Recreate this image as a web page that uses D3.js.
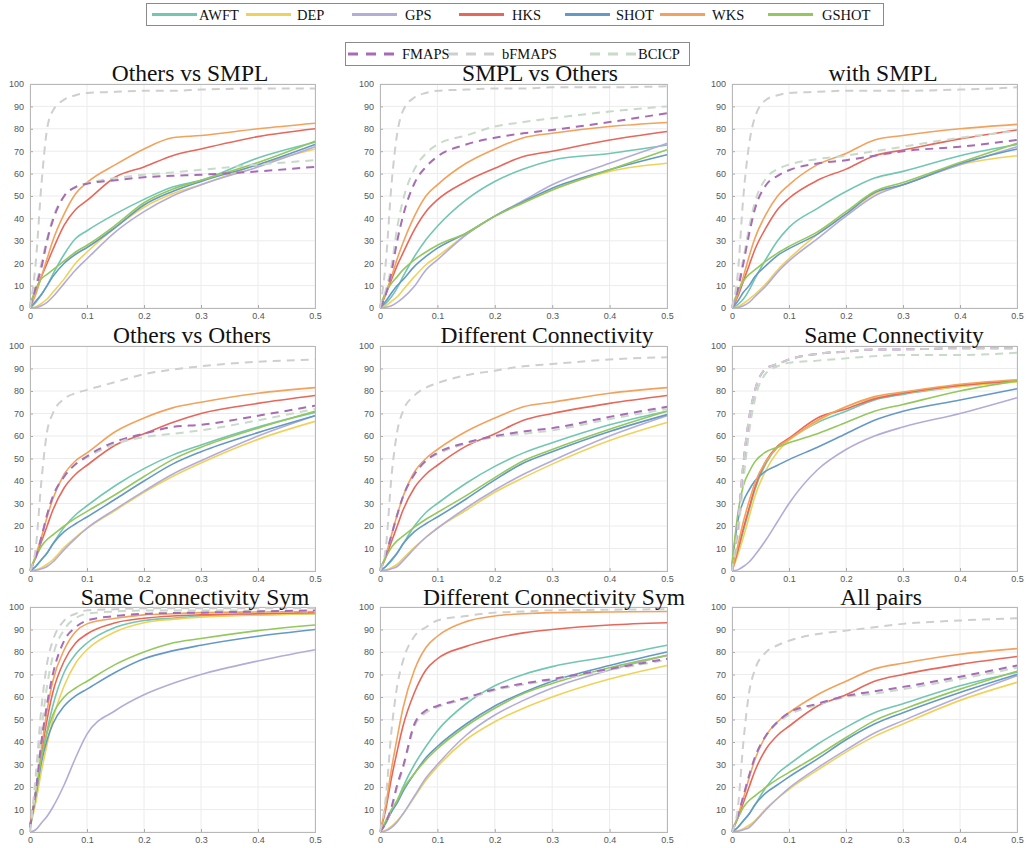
<!DOCTYPE html>
<html>
<head>
<meta charset="utf-8">
<script src="https://cdn.jsdelivr.net/npm/d3@7/dist/d3.min.js"></script>
<style>
  html, body { margin: 0; padding: 0; background: #fff; }
  svg { display: block; }
</style>
</head>
<body>
<svg id="chart" width="1026" height="848"></svg>
<script>
// Geodesic error thresholds shared by every curve
const thresholds = [0, 0.01, 0.02, 0.03, 0.04, 0.06, 0.08, 0.1, 0.15, 0.2, 0.25, 0.3, 0.4, 0.5];

const methods = ["AWFT", "DEP", "GPS", "HKS", "SHOT", "WKS", "GSHOT", "FMAPS", "bFMAPS", "BCICP"];
const methodColors = ["#72c6b2", "#f0d25a", "#b3acd8", "#e8675b", "#6499c7", "#f2a25c", "#94c85c",
                      "#a86bb6", "#cfcfcf", "#c8dac8"];
const dashedMethods = ["FMAPS", "bFMAPS", "BCICP"];

const panelTitles = ["Others vs SMPL", "SMPL vs Others", "with SMPL",
                     "Others vs Others", "Different Connectivity", "Same Connectivity",
                     "Same Connectivity Sym", "Different Connectivity Sym", "All pairs"];

const xTickValues = [0, 0.1, 0.2, 0.3, 0.4, 0.5];
const xTickLabels = ["0", "0.1", "0.2", "0.3", "0.4", "0.5"];
const yTickValues = [0, 10, 20, 30, 40, 50, 60, 70, 80, 90, 100];

// % correspondences per method (rows follow `methods`)
const othersVsSmpl = [
  [0, 2.5, 6, 10, 15, 24, 31, 34.5, 42, 48.5, 54, 57, 67, 74],
  [0, 0.5, 2, 4, 7, 13, 20, 25, 36, 45, 51, 55, 64, 71],
  [0, 0.2, 1, 2.5, 5, 11, 17, 22, 34, 43, 50, 55, 63, 72],
  [1, 8, 14, 20, 26, 37, 44, 48, 58.5, 63, 68, 71, 76.5, 80],
  [0, 3, 6, 10, 14, 20, 24, 27, 36, 46, 52, 56.5, 64, 73],
  [0, 6, 14, 22, 30, 42, 51, 56, 64, 71, 76, 77, 80, 82.5],
  [2, 8, 13, 15, 17, 21, 25, 28, 37, 47, 53, 57, 65, 74.5],
  [0, 9, 18, 30, 39, 50, 54, 55.5, 57, 58.4, 59, 59.5, 61, 63],
  [0, 20, 55, 80, 88, 93, 95, 96, 96.5, 97, 97, 97.5, 98, 98],
  [0, 10, 20, 31, 40, 50, 54, 55.7, 58, 59.5, 60.5, 61.7, 64, 66]
];
const smplVsOthers = [
  [0, 2, 5, 9, 14, 23, 30.5, 36.5, 48.3, 56.5, 62, 66, 69, 72.8],
  [0, 1, 3, 5, 8, 14, 19.3, 23, 32.7, 41, 47, 52.7, 61, 64.6],
  [0, 0.3, 1, 2.5, 4.5, 9.7, 17, 21.5, 32.7, 41, 48, 55, 64.6, 73.5],
  [0, 6, 12.6, 19, 24.5, 35, 43, 48.3, 56.5, 62.4, 67.6, 70, 75, 78.8],
  [0, 3, 6.7, 10, 12.6, 18.6, 23, 26.7, 33.4, 41, 47.5, 53.5, 61.7, 68.4],
  [0, 7, 14, 22, 29, 41, 50, 55, 64.6, 71, 76, 78, 81, 82.8],
  [1, 7, 11, 14, 17, 21.5, 25, 28, 33.4, 41, 47, 52.7, 61.7, 70.6],
  [0, 6, 16, 30, 41, 55.7, 63, 67.6, 73, 76, 78, 79.5, 83, 87],
  [0, 20, 55, 78, 88, 94, 96, 97, 97.5, 98, 98, 98.5, 98.5, 99],
  [0, 8, 19, 36, 48, 62, 69, 73, 77, 81, 83, 84.7, 87.7, 90]
];
const withSmpl = [
  [0, 1.5, 4, 8, 13, 22, 30, 36, 44.5, 52, 58, 61, 68, 73],
  [0, 0.5, 2, 4, 6, 11, 17, 22, 33, 42, 51, 55, 64, 68],
  [0, 0.2, 1, 2.5, 5, 10, 16, 21, 31, 41, 50, 55, 64, 72],
  [0, 5, 12, 19, 26, 36, 44, 49, 57, 62, 68, 70.5, 75.5, 79.5],
  [0, 3, 7, 10, 14, 19, 23.5, 26.5, 33, 42, 51.5, 55, 64.5, 71],
  [0, 6, 14, 23, 31, 42, 50, 55, 64, 69, 75, 77, 80, 82],
  [1, 7, 12, 15, 17, 21, 24.5, 27.5, 34, 43, 52, 56, 65, 73.5],
  [0, 8, 20, 33, 44, 55, 59, 61.5, 64.5, 66, 68, 70, 72, 75],
  [0, 15, 50, 73, 85, 93, 95, 96, 96.5, 97, 97, 97, 97.5, 98.5],
  [0, 10, 22, 36, 47, 58, 62, 64, 66.5, 68, 70, 72, 76, 79]
];
const othersVsOthers = [
  [0, 2, 5, 8, 12, 19.5, 25, 29, 38, 45.5, 51.5, 56, 64, 70.5],
  [0, 0.5, 1.5, 3, 5, 10.5, 15, 19, 27, 35, 42, 48, 58.5, 66.5],
  [0, 0.3, 1, 2, 4, 9.5, 14.5, 19, 27.5, 35.5, 43, 49, 60, 69],
  [0, 6, 13, 20, 27, 37, 43, 47, 56, 61, 66, 70, 74.5, 78],
  [0, 2, 5, 8, 12, 17.5, 21, 24, 32, 40, 47.5, 53, 61.5, 69],
  [0, 7, 15, 24, 32, 43, 49, 52.5, 62, 68, 72.5, 75, 79, 81.5],
  [1, 6, 11, 14, 16, 20, 23.5, 26.5, 34, 42, 49.5, 55, 63.5, 71],
  [0, 6, 15, 25, 33, 42, 47.5, 51, 57.5, 61, 64, 65, 69, 73.5],
  [0, 10, 40, 62, 70, 76.5, 79, 80.5, 84, 87.5, 89.5, 91, 93, 94],
  [0, 6, 15, 25, 33, 42, 47.5, 50.5, 56.5, 59.5, 61, 62.5, 67, 72]
];
const differentConnectivity = [
  [0, 2, 4.5, 8, 12, 20, 26, 30, 39, 46.5, 52.5, 57, 65, 71],
  [0, 0.5, 1.5, 3, 5.5, 10.5, 15, 19, 27, 35, 41.5, 47.5, 58, 66],
  [0, 0.3, 1, 2, 4.5, 10, 15, 19, 28, 36, 43, 49, 60, 69],
  [0, 6, 13, 20, 27, 37, 43, 47, 55.5, 61, 67, 70, 74.5, 78],
  [0, 2, 5, 8, 12, 17.5, 21, 24, 32, 40.5, 48, 53, 62, 69.5],
  [0, 7, 16, 25, 33, 44, 50, 54, 62, 68, 73, 75, 79, 81.5],
  [1, 6, 10.5, 13.5, 15.5, 19.5, 23, 26, 33.5, 41.5, 49, 54, 63, 71],
  [0, 7, 16, 25, 33, 43, 49, 52.5, 57, 60, 62, 63.5, 68.5, 73],
  [0, 10, 42, 62, 71, 78, 81.5, 83.5, 87, 89, 91, 92, 94, 95],
  [0, 7, 16, 25, 33, 43, 49, 52, 56.5, 59.5, 61, 62.5, 67.5, 72]
];
const sameConnectivity = [
  [0, 8, 18, 27, 36, 48, 55, 58.5, 66, 71, 76, 78.5, 82, 84.5],
  [0, 7, 15, 24, 33, 45, 53, 58, 66.5, 73, 77, 79, 82, 84],
  [0, 0.5, 2, 4, 7, 14, 22, 30, 45, 54, 60, 64, 70, 77],
  [0, 9, 19, 28, 37, 49, 55.5, 59, 68, 72, 76.5, 79, 82.5, 84.5],
  [2, 22, 31, 36, 40, 44.5, 47, 49.5, 55, 61, 67, 71, 76, 81],
  [0, 11, 22, 31, 39, 49, 55, 58.5, 67, 73, 77.5, 79.5, 83, 85],
  [3, 25, 38, 44, 48.5, 53, 55, 57, 61, 66, 71, 74, 80, 84.5],
  [0, 20, 48, 68, 80, 90, 92, 94, 96.5, 97.5, 98.5, 98.5, 99, 99],
  [0, 20, 48, 68, 80, 90, 92, 94, 96.5, 97.5, 98.5, 98.5, 99, 99],
  [0, 15, 40, 62, 76, 88, 91, 92.5, 93.5, 94.5, 95.5, 96, 96, 97]
];
const sameConnectivitySym = [
  [3, 16, 32, 45, 56, 71, 79, 84, 91, 94, 95, 96, 96.5, 97],
  [2, 13, 27, 39, 50, 65, 75, 81, 89, 93, 94.5, 95.5, 96.5, 97],
  [0, 1, 4, 7, 11, 21, 33, 43.5, 54, 61, 66, 70, 76, 81],
  [3, 17, 35, 50, 62, 76, 84, 88, 93, 95, 96, 96.5, 97, 97.5],
  [2, 16, 31, 41, 48, 56, 60.5, 63.5, 71, 77, 80.5, 83, 87, 90],
  [3, 18, 37, 54, 67, 81, 89, 92.5, 95, 96.5, 97, 97.5, 97.8, 98],
  [2, 17, 33, 44, 52, 60, 64, 67, 74.5, 80, 84, 86, 89.5, 92],
  [2, 18, 40, 57, 70, 85, 91, 94, 96, 97, 97.3, 97.5, 98, 98.5],
  [0, 25, 55, 75, 85, 94, 97, 98.5, 99, 99.5, 99.5, 99.5, 99.5, 99.5],
  [0, 20, 45, 65, 78, 90, 95, 97, 98, 98.5, 98.5, 98.5, 98.3, 98]
];
const differentConnectivitySym = [
  [0, 4, 9, 14, 20, 30, 38, 45, 57, 65, 70, 73.5, 78, 83],
  [0, 0.8, 2.5, 5, 8, 15.5, 23, 29, 41, 49, 55, 60, 68, 74],
  [0, 0.5, 2, 4.5, 8, 16, 24, 30, 43, 52, 58.5, 64, 72, 78.5],
  [0, 10, 24, 36, 47, 62, 72, 77, 82.5, 86, 88.5, 90, 92, 93],
  [0, 4, 9, 13, 18, 26, 33, 38, 48, 56, 62, 67, 74, 80],
  [0, 12, 28, 42, 55, 72, 82, 87, 93.5, 96, 97, 97.5, 97.8, 98],
  [0, 5, 10, 14, 19, 26, 32, 37, 47, 55, 61.5, 66, 73, 78.5],
  [0, 4, 11, 21, 29, 48, 54, 56, 59.6, 63.5, 66, 68, 72.5, 77],
  [0, 15, 45, 65, 76, 87, 91, 94, 96, 97.5, 98, 98.5, 98.8, 99],
  [0, 4, 10, 20, 28, 47, 53, 55.5, 59, 63, 65.5, 67.5, 72, 76.5]
];
const allPairs = [
  [0, 2, 5, 8, 12, 20, 26, 30, 39, 46.5, 53, 57, 65, 71],
  [0, 0.5, 1.5, 3, 5, 10.5, 15, 19, 27.5, 35.5, 42.5, 48, 58.5, 66.5],
  [0, 0.3, 1, 2, 4.5, 10, 15, 19.5, 28.5, 36.5, 44, 49.5, 60, 69.5],
  [0, 6, 13, 20, 27, 37, 43, 47, 56, 61, 67, 70, 74.5, 78],
  [0, 2, 5, 8, 12, 17.5, 21, 24.5, 32.5, 41, 48, 53, 62, 70],
  [0, 7, 15, 24, 32, 43, 49, 53, 61, 67, 72.5, 75, 79, 81.5],
  [1, 6, 11, 14, 16, 20, 23.5, 26.5, 34, 42, 49.5, 54.5, 63.5, 71.5],
  [0, 7, 16, 25, 33, 43, 49, 53, 57, 60.5, 62.5, 64.5, 69, 74],
  [0, 10, 40, 62, 72, 80, 83, 85, 88, 89.5, 91, 92.5, 94, 95],
  [0, 7, 16, 25, 33, 43, 48.5, 52, 56.5, 60, 61.5, 63.5, 68, 73]
];

const panelData = [othersVsSmpl, smplVsOthers, withSmpl,
                   othersVsOthers, differentConnectivity, sameConnectivity,
                   sameConnectivitySym, differentConnectivitySym, allPairs];

// ---- layout ----
const colX = [[30, 315], [380, 667], [732, 1017]];
const rowY = [[84, 308], [346, 571], [607, 832]];
const titleCx = [190, 540, 883, 192, 547, 894, 195, 554, 881];
const titleBaseline = [81, 343, 605];

const svg = d3.select("#chart");
const serif = "'Liberation Serif', 'Times New Roman', serif";
const sans = "'Liberation Sans', Arial, Helvetica, sans-serif";

// drawing order: solid methods first, then the dashed ones
const drawOrder = [0, 1, 2, 3, 4, 5, 6, 9, 7, 8];

panelData.forEach((rows, p) => {
  const c = p % 3, r = Math.floor(p / 3);
  const x = d3.scaleLinear().domain([0, 0.5]).range(colX[c]);
  const y = d3.scaleLinear().domain([0, 100]).range([rowY[r][1], rowY[r][0]]);
  const g = svg.append("g");

  // grid
  g.append("g").selectAll("line").data(yTickValues).join("line")
    .attr("x1", colX[c][0]).attr("x2", colX[c][1])
    .attr("y1", d => y(d)).attr("y2", d => y(d))
    .attr("stroke", "#ececec").attr("stroke-width", 1);
  g.append("g").selectAll("line").data(xTickValues).join("line")
    .attr("x1", d => x(d)).attr("x2", d => x(d))
    .attr("y1", rowY[r][0]).attr("y2", rowY[r][1])
    .attr("stroke", "#ececec").attr("stroke-width", 1);

  // axes
  const xAxis = d3.axisBottom(x).tickValues(xTickValues)
    .tickFormat((d, i) => xTickLabels[i]).tickSizeInner(-3).tickSizeOuter(0).tickPadding(6);
  const yAxis = d3.axisLeft(y).tickValues(yTickValues).tickSizeInner(-3).tickSizeOuter(0).tickPadding(6);
  const gx = g.append("g").attr("transform", `translate(0,${rowY[r][1]})`).call(xAxis);
  const gy = g.append("g").attr("transform", `translate(${colX[c][0]},0)`).call(yAxis);
  [gx, gy].forEach(ax => {
    ax.select(".domain").remove();
    ax.selectAll(".tick line").attr("stroke", "#aaa");
    ax.selectAll(".tick text").attr("fill", "#555").style("font-family", sans).style("font-size", "9px");
  });
  gx.selectAll(".tick text").attr("dy", "0.6em");

  // plot box
  g.append("rect")
    .attr("x", colX[c][0] + 0.5).attr("y", rowY[r][0] + 0.5)
    .attr("width", colX[c][1] - colX[c][0]).attr("height", rowY[r][1] - rowY[r][0])
    .attr("fill", "none").attr("stroke", "#b8b8b8").attr("stroke-width", 1);

  // curves
  const line = d3.line()
    .x((d, i) => x(thresholds[i]))
    .y(d => y(d))
    .curve(d3.curveMonotoneX);

  drawOrder.forEach(m => {
    const dashed = dashedMethods.includes(methods[m]);
    g.append("path")
      .datum(rows[m])
      .attr("d", line)
      .attr("fill", "none")
      .attr("stroke", methodColors[m])
      .attr("stroke-width", dashed ? 2 : 1.6)
      .attr("stroke-dasharray", dashed ? "8,6" : null)
      .attr("stroke-linejoin", "round");
  });

  // title
  svg.append("text")
    .attr("x", titleCx[p]).attr("y", titleBaseline[r])
    .attr("text-anchor", "middle")
    .style("font-family", serif).style("font-size", "23.5px").attr("fill", "#111")
    .text(panelTitles[p]);
});

// ---- legends ----
function drawLegend(box, items, dashed) {
  const lg = svg.append("g");
  lg.append("rect")
    .attr("x", box[0] + 0.5).attr("y", box[1] + 0.5)
    .attr("width", box[2] - box[0]).attr("height", box[3] - box[1])
    .attr("fill", "#fff").attr("stroke", "#8a8a8a").attr("stroke-width", 1);
  const cy = (box[1] + box[3]) / 2 + 0.5;
  items.forEach(it => {
    lg.append("line")
      .attr("x1", it.lx).attr("x2", it.lx + it.len).attr("y1", cy).attr("y2", cy)
      .attr("stroke", methodColors[it.m]).attr("stroke-width", 3)
      .attr("stroke-dasharray", dashed ? "10,8" : null);
    lg.append("text")
      .attr("x", it.tx).attr("y", cy + 5)
      .style("font-family", serif).style("font-size", "14.5px").attr("fill", "#111")
      .text(methods[it.m]);
  });
}

const topLegendX = [152, 246, 352, 459, 565, 660, 768];
const topLegendTextX = [199, 297, 405, 512, 616, 712, 822];
drawLegend([146, 3, 883, 25],
  topLegendX.map((lx, i) => ({ m: i, lx, len: 45, tx: topLegendTextX[i] })), false);

const bottomLegendX = [348, 448, 590];
const bottomLegendTextX = [402, 502, 638];
drawLegend([345, 42, 689, 65],
  bottomLegendX.map((lx, i) => ({ m: 7 + i, lx, len: 46, tx: bottomLegendTextX[i] })), true);
</script>
</body>
</html>
